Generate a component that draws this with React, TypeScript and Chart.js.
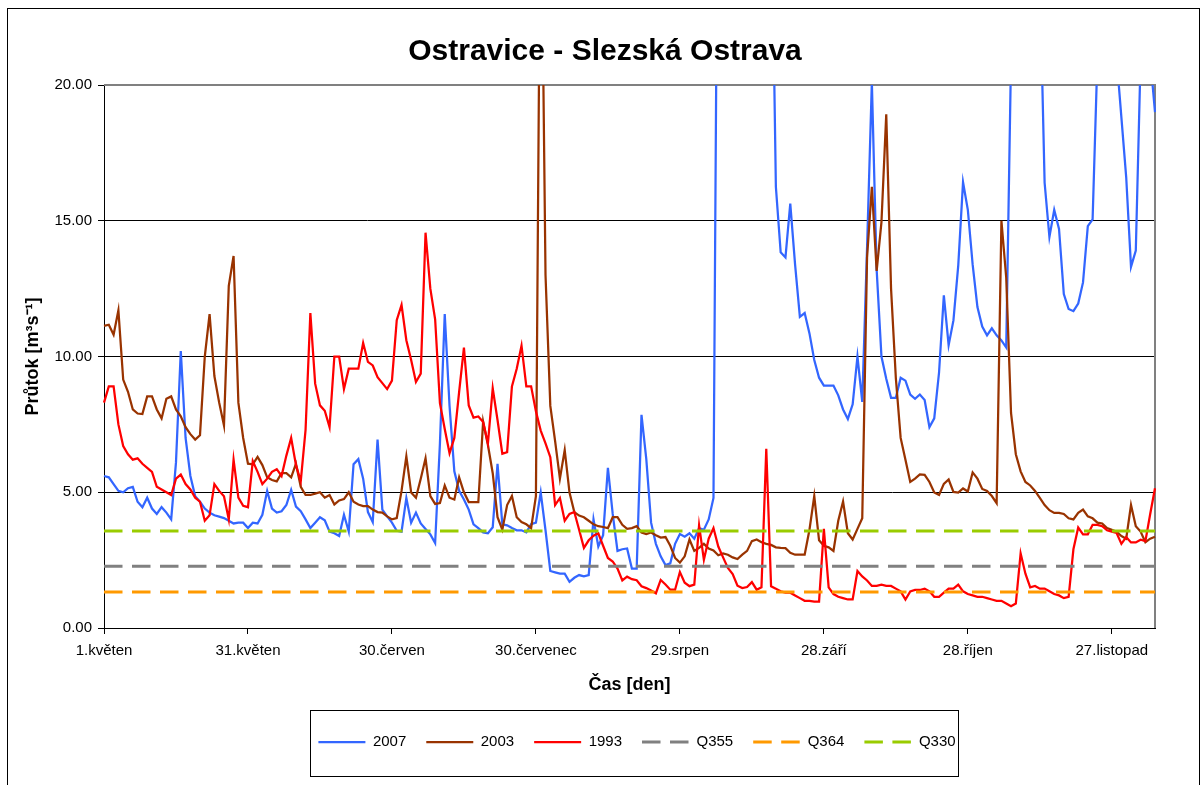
import React, { useEffect, useRef } from 'react';
import { Chart, registerables } from 'chart.js';

Chart.register(...registerables);

const FONT = "'Liberation Sans', Arial, Helvetica, sans-serif";

// Category axis: daily values from 1 May
const MONTHS = ['květen', 'červen', 'červenec', 'srpen', 'září', 'říjen', 'listopad', 'prosinec'];
const MONTH_DAYS = [31, 30, 31, 31, 30, 31, 30, 31];
const N_DAYS = 220;
const categories: string[] = [];
for (let m = 0; m < MONTHS.length && categories.length < N_DAYS; m++) {
  for (let d = 1; d <= MONTH_DAYS[m] && categories.length < N_DAYS; d++) {
    categories.push(`${d}.${MONTHS[m]}`);
  }
}
const TICK_EVERY = 30;

const Y_MIN = 0;
const Y_MAX = 20;
const Y_STEP = 5;

// Series values [m3/s]
const y2007 = [
  5.6, 5.55, 5.3, 5.05, 5.0, 5.15, 5.2, 4.65, 4.45, 4.8,
  4.4, 4.2, 4.45, 4.25, 4.0, 6.1, 10.2, 7.0, 5.6, 4.85,
  4.65, 4.4, 4.25, 4.15, 4.1, 4.05, 3.95, 3.85, 3.88, 3.88,
  3.68, 3.88, 3.85, 4.17, 5.05, 4.4, 4.25, 4.3, 4.53, 5.09,
  4.47, 4.3, 4.0, 3.68, 3.88, 4.08, 3.97, 3.55, 3.49, 3.39,
  4.17, 3.55, 6.03, 6.22, 5.5, 4.27, 3.9, 6.94, 4.36, 4.11,
  3.88, 3.58, 3.55, 4.79, 3.88, 4.25, 3.85, 3.65, 3.45, 3.13,
  6.8, 11.56, 8.18, 5.77, 5.05, 4.73, 4.36, 3.82, 3.68, 3.52,
  3.49, 3.71, 6.05, 3.82, 3.78, 3.68, 3.6, 3.6, 3.52, 3.82,
  3.88, 4.99, 3.6, 2.1, 2.05, 2.0, 2.0, 1.7, 1.85, 1.95,
  1.9, 1.95, 4.0, 3.0, 3.42, 5.9, 4.2, 2.84, 2.9, 2.93,
  2.19, 2.19, 7.85, 6.22, 3.88, 3.1, 2.64, 2.32, 2.38, 3.1,
  3.46, 3.36, 3.49, 3.29, 3.68, 3.62, 4.0, 4.79, 32, 55,
  70, 60, 48, 42, 38, 35, 45, 40, 33, 28,
  16.25, 13.84, 13.65, 15.63, 13.39, 11.46, 11.6, 10.85, 9.87, 9.22,
  8.93, 8.93, 8.93, 8.57, 8.05, 7.7, 8.24, 10.0, 8.33, 14.0,
  20.1, 13.2, 10.0, 9.18, 8.48, 8.48, 9.22, 9.11, 8.6, 8.44,
  8.6, 8.4, 7.4, 7.72, 9.41, 12.25, 10.42, 11.33, 13.35, 16.42,
  15.4, 13.39, 11.82, 11.1, 10.78, 11.04, 10.78, 10.59, 10.33, 21,
  35, 45, 40, 33, 28, 24, 16.4, 14.4, 15.4, 14.7,
  12.3, 11.75, 11.67, 11.95, 12.73, 14.8, 15.05, 21, 30, 35,
  28, 21, 18.8, 16.6, 13.3, 13.9, 21, 27, 21, 19.0,
];

const y2003 = [
  11.13, 11.17, 10.8, 11.7, 9.15, 8.7, 8.05, 7.9, 7.88, 8.53,
  8.53, 8.05, 7.72, 8.44, 8.53, 8.05, 7.8, 7.4, 7.14, 6.94,
  7.1, 10.0, 11.56, 9.28, 8.3, 7.46, 12.6, 13.7, 8.3, 7.0,
  6.05, 6.03, 6.3, 6.0, 5.55, 5.45, 5.4, 5.7, 5.7, 5.55,
  6.05, 5.2, 4.9, 4.9, 4.95, 5.0, 4.8, 4.9, 4.55, 4.7,
  4.75, 5.0, 4.65, 4.55, 4.49, 4.49, 4.36, 4.27, 4.25, 4.11,
  4.0, 4.05, 5.05, 6.32, 4.99, 4.8, 5.5, 6.25, 4.86, 4.57,
  4.6, 5.25, 4.8, 4.73, 5.55, 5.0, 4.64, 4.64, 4.64, 7.6,
  6.74, 5.7, 4.08, 3.62, 4.53, 4.86, 4.08, 3.9, 3.82, 3.68,
  4.86, 29, 13.0, 8.18, 6.88, 5.5, 6.55, 4.99, 4.27, 4.14,
  4.08, 3.95, 3.82, 3.75, 3.72, 3.68, 4.08, 4.08, 3.8, 3.65,
  3.68, 3.75, 3.52, 3.46, 3.52, 3.42, 3.33, 3.35, 3.03, 2.58,
  2.41, 2.64, 3.26, 2.84, 2.95, 3.1, 2.93, 2.86, 2.68, 2.75,
  2.7, 2.6, 2.54, 2.7, 2.84, 3.2, 3.26, 3.16, 3.1, 3.06,
  2.97, 2.95, 2.94, 2.77, 2.7, 2.7, 2.7, 3.62, 4.86, 3.23,
  3.03, 2.97, 2.84, 3.95, 4.66, 3.49, 3.26, 3.65, 4.04, 13.65,
  16.25, 13.15, 14.95, 18.92, 12.5, 9.2, 7.0, 6.2, 5.38, 5.5,
  5.66, 5.64, 5.38, 4.99, 4.9, 5.31, 5.47, 5.01, 4.99, 5.14,
  5.03, 5.73, 5.5, 5.12, 5.05, 4.86, 4.6, 15.0, 12.9, 7.92,
  6.4, 5.77, 5.38, 5.25, 5.05, 4.79, 4.53, 4.34, 4.24, 4.24,
  4.2, 4.04, 4.0, 4.24, 4.36, 4.11, 4.04, 3.88, 3.85, 3.68,
  3.62, 3.55, 3.39, 3.29, 4.53, 3.75, 3.55, 3.16, 3.29, 3.36,
];

const y1993 = [
  8.3, 8.9, 8.9, 7.5, 6.7, 6.4, 6.2, 6.25, 6.05, 5.9,
  5.75, 5.2, 5.1, 5.0, 4.9, 5.5, 5.65, 5.3, 5.1, 4.8,
  4.65, 3.95, 4.15, 5.3, 5.05, 4.85, 4.0, 6.2, 4.8, 4.5,
  4.45, 6.15, 5.75, 5.3, 5.5, 5.75, 5.85, 5.6, 6.35, 7.0,
  6.0, 5.4, 7.3, 11.6, 9.0, 8.2, 8.0, 7.4, 10.0, 10.0,
  8.8, 9.55, 9.55, 9.55, 10.5, 9.8, 9.67, 9.24, 9.02, 8.8,
  9.11, 11.34, 11.9, 10.6, 9.87, 9.06, 9.37, 14.56, 12.5, 11.37,
  8.28, 7.33, 6.44, 7.0, 8.7, 10.33, 8.2, 7.75, 7.79, 7.59,
  6.8, 8.83, 7.66, 6.42, 6.48, 8.9, 9.55, 10.4, 8.9, 8.9,
  7.98, 7.27, 6.8, 6.29, 4.53, 4.79, 3.95, 4.2, 4.27, 3.62,
  2.95, 3.23, 3.4, 3.49, 3.03, 2.58, 2.45, 2.19, 1.75, 1.89,
  1.8, 1.76, 1.54, 1.47, 1.38, 1.28, 1.77, 1.6, 1.41, 1.41,
  2.06, 1.67, 1.54, 1.6, 3.78, 2.51, 3.29, 3.68, 3.0, 2.6,
  2.21, 1.99, 1.56, 1.47, 1.51, 1.69, 1.41, 1.5, 6.6, 1.54,
  1.45, 1.35, 1.3, 1.3, 1.2, 1.1, 1.0, 1.0, 0.97, 0.97,
  3.65, 1.5, 1.25, 1.15, 1.1, 1.05, 1.05, 2.1, 1.9, 1.75,
  1.55, 1.55, 1.6, 1.55, 1.55, 1.45, 1.35, 1.05, 1.35, 1.4,
  1.4, 1.45, 1.35, 1.15, 1.15, 1.3, 1.45, 1.45, 1.6, 1.35,
  1.25, 1.2, 1.15, 1.15, 1.1, 1.05, 1.0, 1.0, 0.9, 0.8,
  0.9, 2.75, 2.0, 1.5, 1.55, 1.45, 1.45, 1.35, 1.25, 1.2,
  1.1, 1.15, 2.9, 3.7, 3.45, 3.45, 3.8, 3.8, 3.75, 3.6,
  3.55, 3.5, 3.1, 3.35, 3.15, 3.15, 3.25, 3.2, 4.2, 5.15,
];

// Reference discharges (constant levels)
const Q355 = 2.27;
const Q364 = 1.33;
const Q330 = 3.57;

const levelSeries = (v: number) => categories.map(() => v);

// Layout / style constants
const TITLE_CENTER_X = 605;
const LEGEND_CENTER_X = 637;
const LEGEND_BOX = { x: 310.5, y: 710.5, w: 648, h: 66 };
const DASH = [18.5, 9.5];

const layoutPlugin = {
  id: 'layoutTweaks',
  afterLayout(chart: any) {
    const lg = chart.legend;
    if (lg) {
      const d = LEGEND_CENTER_X - (lg.left + lg.right) / 2;
      lg.left += d;
      lg.right += d;
    }
    const tb = chart.titleBlock;
    if (tb) {
      const d = TITLE_CENTER_X - (tb.left + tb.right) / 2;
      tb.left += d;
      tb.right += d;
    }
  },
  beforeDatasetsDraw(chart: any) {
    const { ctx, chartArea } = chart;
    const { left, top, right, bottom } = chartArea;
    ctx.save();
    ctx.strokeStyle = '#808080';
    ctx.lineWidth = 2;
    ctx.beginPath();
    ctx.moveTo(left, top);
    ctx.lineTo(right, top);
    ctx.lineTo(right, bottom);
    ctx.stroke();
    ctx.restore();
  },
  afterDraw(chart: any) {
    const { ctx } = chart;
    ctx.save();
    ctx.strokeStyle = '#000';
    ctx.lineWidth = 1;
    ctx.strokeRect(LEGEND_BOX.x, LEGEND_BOX.y, LEGEND_BOX.w, LEGEND_BOX.h);
    ctx.restore();
  },
};

export default function App() {
  const canvasRef = useRef<HTMLCanvasElement | null>(null);

  useEffect(() => {
    if (!canvasRef.current) return;
    const lineDs = (label: string, data: number[], color: string, order: number) => ({
      label,
      data,
      borderColor: color,
      backgroundColor: color,
      borderWidth: 2.25,
      pointRadius: 0,
      pointHoverRadius: 0,
      tension: 0,
      fill: false,
      order,
    });
    const dashDs = (label: string, v: number, color: string, order: number) => ({
      label,
      data: levelSeries(v),
      borderColor: color,
      backgroundColor: color,
      borderWidth: 3,
      borderDash: DASH,
      pointRadius: 0,
      pointHoverRadius: 0,
      tension: 0,
      fill: false,
      order,
    });

    const chart = new Chart(canvasRef.current, {
      type: 'line',
      data: {
        labels: categories,
        datasets: [
          lineDs('2007', y2007, '#3366FF', 5),
          lineDs('2003', y2003, '#993300', 4),
          lineDs('1993', y1993, '#FF0000', 3),
          dashDs('Q355', Q355, '#808080', 2),
          dashDs('Q364', Q364, '#FF9900', 1),
          dashDs('Q330', Q330, '#99CC00', 0),
        ] as any,
      },
      options: {
        animation: false,
        responsive: false,
        devicePixelRatio: 1,
        layout: { padding: { top: 10, left: 10, right: 47, bottom: 25.5 } },
        plugins: {
          title: {
            display: true,
            text: 'Ostravice - Slezská Ostrava',
            color: '#000',
            font: { family: FONT, size: 30, weight: 'bold', lineHeight: 1.2 },
            padding: { top: 24, bottom: 15 },
          },
          legend: {
            position: 'bottom',
            labels: {
              usePointStyle: true,
              pointStyle: 'line',
              pointStyleWidth: 47,
              padding: 20,
              color: '#000',
              font: { family: FONT, size: 15 },
              generateLabels: (ch: any) =>
                ch.data.datasets.map((ds: any, i: number) => ({
                  text: ds.label,
                  fillStyle: ds.borderColor,
                  strokeStyle: ds.borderColor,
                  lineWidth: ds.borderWidth,
                  lineDash: ds.borderDash || [],
                  lineDashOffset: 0,
                  lineCap: 'butt',
                  pointStyle: 'line',
                  hidden: false,
                  datasetIndex: i,
                  fontColor: '#000',
                })),
            },
          },
          tooltip: { enabled: false },
        },
        scales: {
          x: {
            type: 'category',
            ticks: {
              autoSkip: false,
              maxRotation: 0,
              minRotation: 0,
              color: '#000',
              padding: 8,
              font: { family: FONT, size: 15 },
            },
            grid: {
              drawOnChartArea: false,
              drawTicks: true,
              tickLength: 6,
              color: '#000',
              tickColor: '#000',
            },
            border: { color: '#000', width: 1 },
            title: {
              display: true,
              text: 'Čas [den]',
              color: '#000',
              font: { family: FONT, size: 18, weight: 'bold', lineHeight: 1.2 },
              padding: { top: 0, bottom: 18.9 },
            },
            afterBuildTicks: (scale: any) => {
              scale.ticks = scale.ticks.filter((t: any) => t.value % TICK_EVERY === 0);
            },
            afterFit: (scale: any) => {
              scale.height = 86.5;
            },
          },
          y: {
            min: Y_MIN,
            max: Y_MAX,
            ticks: {
              stepSize: Y_STEP,
              color: '#000',
              padding: 6,
              font: { family: FONT, size: 15 },
              callback: (v: any) => Number(v).toFixed(2),
            },
            grid: {
              color: (ctx: any) => (ctx.tick && ctx.tick.value === Y_MAX ? 'rgba(0,0,0,0)' : '#000'),
              tickColor: '#000',
              tickLength: 6,
              lineWidth: 1,
            },
            border: { color: '#000', width: 1 },
            title: {
              display: true,
              text: 'Průtok [m³s⁻¹]',
              color: '#000',
              font: { family: FONT, size: 18, weight: 'bold', lineHeight: 1.2 },
              padding: { top: 12.2, bottom: 0 },
            },
            afterFit: (scale: any) => {
              scale.width = 94;
            },
          },
        },
      } as any,
      plugins: [layoutPlugin],
    });
    return () => chart.destroy();
  }, []);

  return (
    <div style={{ position: 'absolute', left: 0, top: 0, width: 1202, height: 785, overflow: 'hidden', background: '#fff' }}>
      <div
        style={{
          position: 'absolute',
          left: 7,
          top: 8,
          width: 1193,
          height: 800,
          border: '1px solid #000',
          boxSizing: 'border-box',
        }}
      />
      <canvas ref={canvasRef} width={1202} height={785} style={{ position: 'absolute', left: 0, top: 0 }} />
    </div>
  );
}
